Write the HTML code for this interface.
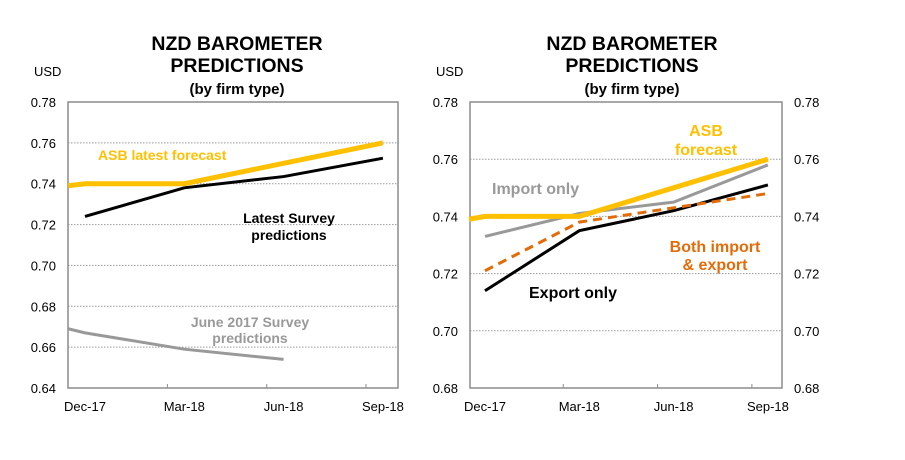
<!DOCTYPE html>
<html><head><meta charset="utf-8"><style>
body{margin:0;background:#fff;}
svg text{font-family:"Liberation Sans",Arial,sans-serif;}
</style></head><body>
<svg id="c" width="905" height="455" xmlns="http://www.w3.org/2000/svg"></svg>
<script>
const categories=["Dec-17","Mar-18","Jun-18","Sep-18"];
const leftTicks=[0.64,0.66,0.68,0.70,0.72,0.74,0.76,0.78];
const rightTicks=[0.68,0.70,0.72,0.74,0.76,0.78];
const asbIdx=[-0.17,0,1,2,3];
const asbVals=[0.739,0.740,0.740,0.750,0.760];
const latestVals=[0.724,0.738,0.7435,0.7525];
const juneIdx=[-0.17,0,1,2];
const juneVals=[0.669,0.667,0.659,0.654];
const importVals=[0.733,0.741,0.745,0.758];
const exportVals=[0.714,0.735,0.742,0.751];
const bothVals=[0.721,0.738,0.743,0.748];

const svg=document.getElementById('c');
const NS="http://www.w3.org/2000/svg";
function el(tag,attrs,parent){const e=document.createElementNS(NS,tag);for(const k in attrs)e.setAttribute(k,attrs[k]);(parent||svg).appendChild(e);return e;}
function txt(s,x,y,o,name){const t=el('text',Object.assign({x:x,y:y,'font-size':13,fill:'#000'},o||{}));t.textContent=s;


return t;}

function panel(cfg){
  const g=el('g',{});
  
  
  const y=v=>cfg.y0+(cfg.max-v)/(cfg.max-cfg.min)*(cfg.y1-cfg.y0);
  const x=i=>cfg.xd+i*cfg.step;
  cfg.ticks.forEach(t=>{
    if(t>cfg.min&&t<cfg.max){const l=el('line',{x1:cfg.xl,x2:cfg.xr,y1:y(t),y2:y(t),stroke:'#999','stroke-dasharray':'1.5,1.5','stroke-width':1},g);
    
    }
    txt(t.toFixed(2),cfg.xl-12,y(t)+5,{'text-anchor':'end'},'y-tick-label');
    if(cfg.right) txt(t.toFixed(2),cfg.xr+12,y(t)+5,{},'y2-tick-label');
  });
  const r=el('rect',{x:cfg.xl,y:cfg.y0,width:cfg.xr-cfg.xl,height:cfg.y1-cfg.y0,fill:'none',stroke:'#8c8c8c','stroke-width':1.5},g);
  
  
  for(let i=1;i<4;i++){const tx=x(i)-cfg.step*0.17;const tk=el('line',{x1:tx,x2:tx,y1:cfg.y1-4,y2:cfg.y1,stroke:'#8c8c8c'},g);
    
    }
  categories.forEach((c,i)=>txt(c,x(i),cfg.y1+23,{'text-anchor':'middle'},'x-tick-label'));
  cfg.series.forEach(s=>{
    const idx=s.idx||[0,1,2,3];
    const p=el('polyline',{points:s.vals.map((v,k)=>x(idx[k])+','+y(v)).join(' '),fill:'none',stroke:s.color,'stroke-width':s.w,'stroke-dasharray':s.dash||'none'},g);
    
    
  });
  const cx=cfg.tc;
  txt('NZD BAROMETER',cx,50,{'text-anchor':'middle','font-size':19.5,'font-weight':'bold'},'chart-title');
  txt('PREDICTIONS',cx,72,{'text-anchor':'middle','font-size':19.5,'font-weight':'bold'},'chart-title');
  txt('(by firm type)',cx,94,{'text-anchor':'middle','font-size':15,'font-weight':'bold'},'chart-subtitle');
  txt('USD',cfg.xl-34,76,{},'y-axis-unit');
}
panel({name:'left-chart',xl:68,xr:398,y0:102,y1:388,min:0.64,max:0.78,ticks:leftTicks,xd:85,step:99.3,tc:237,right:false,
 series:[{name:'june-2017-survey-line',idx:juneIdx,vals:juneVals,color:'#999',w:3},
 {name:'latest-survey-line',vals:latestVals,color:'#000',w:3},
 {name:'asb-forecast-line',idx:asbIdx,vals:asbVals,color:'#ffc000',w:5}]});
panel({name:'right-chart',xl:470,xr:782,y0:102,y1:388,min:0.68,max:0.78,ticks:rightTicks,xd:485,step:94.3,tc:632,right:true,
 series:[{name:'import-only-line',vals:importVals,color:'#999',w:3},
 {name:'export-only-line',vals:exportVals,color:'#000',w:3},
 {name:'both-import-export-line',vals:bothVals,color:'#e36c0a',w:3,dash:'9,6'},
 {name:'asb-forecast-line-right',idx:asbIdx,vals:asbVals,color:'#ffc000',w:5}]});
const B={'font-weight':'bold','font-size':14};
txt('ASB  latest forecast',98,160,Object.assign({fill:'#ffc000'},B),'asb-label');
txt('Latest Survey',289,223,Object.assign({'text-anchor':'middle'},B),'latest-survey-label');
txt('predictions',289,240,Object.assign({'text-anchor':'middle'},B),'latest-survey-label');
txt('June 2017  Survey',250,327,Object.assign({'text-anchor':'middle',fill:'#999'},B),'june-survey-label');
txt('predictions',250,343,Object.assign({'text-anchor':'middle',fill:'#999'},B),'june-survey-label');
const B2={'font-weight':'bold','font-size':16};
txt('ASB',706,136,Object.assign({'text-anchor':'middle',fill:'#ffc000'},B2),'asb-label-right');
txt('forecast',706,155,Object.assign({'text-anchor':'middle',fill:'#ffc000'},B2),'asb-label-right');
txt('Import only',492,194,Object.assign({fill:'#999'},B2),'import-only-label');
txt('Both import',715,252,Object.assign({'text-anchor':'middle',fill:'#e36c0a'},B2),'both-label');
txt('& export',715,270,Object.assign({'text-anchor':'middle',fill:'#e36c0a'},B2),'both-label');
txt('Export only',529,298,B2,'export-only-label');
</script>
</body></html>
